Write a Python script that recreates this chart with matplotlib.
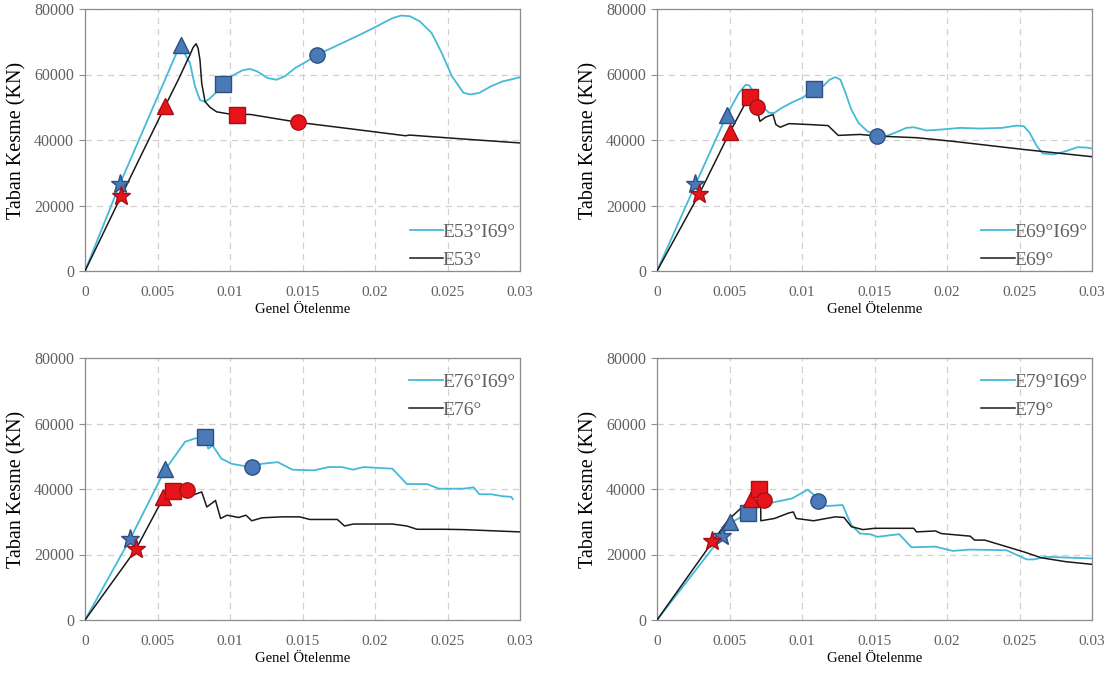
import numpy as np
import matplotlib.pyplot as plt

plt.rcParams['font.family'] = ['Liberation Serif', 'DejaVu Serif']

# ---- data (drift, base shear kN) ----
# panel 1
e53i69_x = [0, 0.0024, 0.00655, 0.00724, 0.00759, 0.00793, 0.00828, 0.00862, 0.00908, 0.0095, 0.0101,
            0.01087, 0.01136, 0.01185, 0.0126, 0.0132, 0.0138, 0.0145, 0.0153, 0.0160, 0.0175, 0.0187,
            0.0199, 0.0212, 0.0218, 0.0224, 0.0231, 0.0239, 0.0246, 0.0253, 0.0261, 0.0266, 0.0272,
            0.0280, 0.0288, 0.0295, 0.0300]
e53i69_y = [0, 26500, 69000, 63500, 56300, 52200, 51700, 52700, 54700, 57000, 59500,
            61300, 61700, 61000, 58900, 58400, 59500, 62000, 64000, 66000, 69100, 71600,
            74200, 77200, 78000, 77800, 76200, 72700, 66600, 59500, 54400, 53900, 54400,
            56400, 57900, 58600, 59200]
e53_x = [0, 0.0025, 0.0055, 0.0065, 0.0070, 0.00724, 0.00745, 0.00766, 0.0078, 0.00793, 0.00805,
         0.00828, 0.00862, 0.00908, 0.0100, 0.0114, 0.0147, 0.0187, 0.0221, 0.0224, 0.0261, 0.0300]
e53_y = [0, 22900, 50100, 59000, 63800, 66000, 68200, 69400, 68000, 64400, 57300,
         51700, 50000, 48600, 47900, 47800, 45400, 43200, 41300, 41500, 40300, 39100]
p1_blue = {'*': (0.0024, 26500), '^': (0.0066, 69000), 's': (0.0095, 57000), 'o': (0.0160, 66000)}
p1_red = {'*': (0.0025, 23000), '^': (0.0055, 50500), 's': (0.0105, 47500), 'o': (0.0147, 45500)}

# panel 2
e69i69_x = [0, 0.00265, 0.0048, 0.00565, 0.0060, 0.00614, 0.00638, 0.00675, 0.00724, 0.00773, 0.0081,
            0.0086, 0.00933, 0.01007, 0.0108, 0.0115, 0.0119, 0.0123, 0.01265, 0.0130, 0.0134, 0.0139,
            0.0145, 0.0152, 0.0158, 0.0164, 0.0172, 0.0177, 0.0186, 0.0196, 0.0209, 0.0223, 0.0238,
            0.0248, 0.0253, 0.0257, 0.0262, 0.0266, 0.0273, 0.0280, 0.0290, 0.0296, 0.0300]
e69i69_y = [0, 26400, 47500, 54400, 56300, 56900, 56600, 53900, 50300, 48300, 48300,
            49800, 51500, 53000, 55400, 56600, 58400, 59200, 58400, 54400, 49300, 45200,
            42700, 41400, 41200, 42200, 43700, 43900, 42900, 43200, 43700, 43500, 43700,
            44400, 44200, 42200, 38100, 35900, 35600, 36300, 37800, 37700, 37400]
e69_x = [0, 0.0029, 0.0050, 0.0061, 0.0064, 0.0069, 0.0070, 0.0071, 0.0075, 0.0080, 0.0082, 0.0085,
         0.0091, 0.0106, 0.0118, 0.0125, 0.0140, 0.0152, 0.0179, 0.0204, 0.0253, 0.0300]
e69_y = [0, 23400, 42200, 51300, 53200, 50100, 47500, 45700, 47000, 47800, 44700, 43900,
         45000, 44700, 44400, 41400, 41700, 41200, 40700, 39600, 37100, 34900]
p2_blue = {'*': (0.00265, 26500), '^': (0.0048, 47500), 's': (0.0108, 55500), 'o': (0.0152, 41300)}
p2_red = {'*': (0.0029, 23500), '^': (0.0050, 42500), 's': (0.0064, 53000), 'o': (0.0069, 50000)}

# panel 3
e76i69_x = [0, 0.0031, 0.0055, 0.0069, 0.00755, 0.0083, 0.0085, 0.0088, 0.0094, 0.0101, 0.0114, 0.0122,
            0.0133, 0.0143, 0.0158, 0.0168, 0.0177, 0.0185, 0.0192, 0.0212, 0.0222, 0.0236, 0.0244,
            0.0261, 0.0268, 0.0272, 0.0280, 0.0288, 0.0294, 0.0295]
e76i69_y = [0, 24600, 45700, 54400, 55400, 55900, 52300, 53300, 49300, 47700, 46700, 47700,
            48200, 45900, 45700, 46700, 46700, 45900, 46700, 46200, 41500, 41500, 40100,
            40100, 40500, 38400, 38400, 37800, 37600, 36900]
e76_x = [0, 0.0035, 0.0054, 0.0061, 0.0070, 0.0074, 0.00805, 0.0084, 0.0090, 0.00935, 0.0098, 0.0106,
         0.0111, 0.0115, 0.0122, 0.0136, 0.0148, 0.0155, 0.0174, 0.0179, 0.0185, 0.0212, 0.0222,
         0.0229, 0.0248, 0.0261, 0.0300]
e76_y = [0, 21500, 37300, 39300, 39600, 38100, 39100, 34500, 36500, 31000, 32000, 31300,
         32000, 30300, 31200, 31500, 31500, 30700, 30700, 28700, 29300, 29300, 28700,
         27700, 27700, 27600, 26900]
p3_blue = {'*': (0.0031, 24600), '^': (0.0055, 46000), 's': (0.0083, 56000), 'o': (0.0115, 46800)}
p3_red = {'*': (0.0035, 21800), '^': (0.0054, 37500), 's': (0.0061, 39300), 'o': (0.0070, 39600)}

# panel 4
e79i69_x = [0, 0.0045, 0.0051, 0.0063, 0.0072, 0.0081, 0.0093, 0.0104, 0.0117, 0.0128, 0.0134, 0.0140,
            0.0147, 0.0152, 0.0167, 0.01755, 0.0192, 0.0204, 0.0216, 0.0241, 0.0255, 0.0260, 0.0268, 0.0300]
e79i69_y = [0, 25700, 29700, 32700, 35000, 36000, 37100, 39800, 34800, 35100, 29000, 26400,
            26200, 25400, 26200, 22200, 22400, 21100, 21500, 21300, 18500, 18500, 19300, 18800]
e79_x = [0, 0.0038, 0.0049, 0.0059, 0.0065, 0.0070, 0.00715, 0.00716, 0.0081, 0.0091, 0.0094, 0.0096,
         0.0108, 0.0123, 0.0129, 0.0134, 0.0142, 0.0150, 0.0177, 0.0179, 0.0192, 0.0196, 0.0216,
         0.0219, 0.0226, 0.0241, 0.0253, 0.0265, 0.0282, 0.0300]
e79_y = [0, 23700, 30500, 34600, 36600, 38500, 36000, 30300, 31000, 32700, 33000, 31000,
         30300, 31500, 31300, 28500, 27600, 28000, 28000, 26900, 27200, 26400, 25600,
         24400, 24400, 22400, 20800, 19000, 17800, 17000]
p4_blue = {'*': (0.0045, 25700), '^': (0.0050, 30000), 's': (0.0063, 32800), 'o': (0.0111, 36200)}
p4_red = {'*': (0.0038, 24000), '^': (0.0065, 37000), 's': (0.0070, 40000), 'o': (0.0074, 36500)}

panels = [
    (e53i69_x, e53i69_y, e53_x, e53_y, p1_blue, p1_red, 'E53°I69°', 'E53°', 0.095),
    (e69i69_x, e69i69_y, e69_x, e69_y, p2_blue, p2_red, 'E69°I69°', 'E69°', 0.095),
    (e76i69_x, e76i69_y, e76_x, e76_y, p3_blue, p3_red, 'E76°I69°', 'E76°', 0.855),
    (e79i69_x, e79i69_y, e79_x, e79_y, p4_blue, p4_red, 'E79°I69°', 'E79°', 0.855),
]

cyan = '#45bad8'
blue = '#4a7ab8'
blue_edge = '#2f4f80'
red = '#e8141b'
red_edge = '#a80f14'
gray = '#606060'

fig = plt.figure(figsize=(11.2, 6.74), dpi=100)
W, H = 1120, 674
boxes = [(85, 9), (657, 9), (85, 358), (657, 358)]

for (bx, by), p in zip(boxes, panels):
    cx, cy, kx, ky, pb, pr, lab1, lab2, leg_y = p
    ax = fig.add_axes([bx / W, 1 - (by + 262) / H, 435 / W, 262 / H])
    ax.plot(cx, cy, color=cyan, lw=1.3, label=lab1, zorder=3)
    ax.plot(kx, ky, color='#1a1a1a', lw=1.1, label=lab2, zorder=3)
    for m, (x, y) in pb.items():
        ax.plot(x, y, marker=m, ms=14 if m == '*' else 11, color=blue, mec=blue_edge, mew=1, zorder=5)
    for m, (x, y) in pr.items():
        ax.plot(x, y, marker=m, ms=14 if m == '*' else 11, color=red, mec=red_edge, mew=1, zorder=5)
    ax.set_xlim(0, 0.03)
    ax.set_ylim(0, 80000)
    ax.set_xticks([0, 0.005, 0.01, 0.015, 0.02, 0.025, 0.03])
    ax.set_xticklabels(['0', '0.005', '0.01', '0.015', '0.02', '0.025', '0.03'])
    ax.set_yticks([0, 20000, 40000, 60000, 80000])
    ax.grid(True, ls=(0, (5, 4)), color='#d0d0d0', lw=0.9)
    ax.set_axisbelow(True)
    for s in ax.spines.values():
        s.set_color('#8c8c8c')
        s.set_linewidth(0.9)
    ax.tick_params(axis='y', length=4, color='#8c8c8c', labelsize=11.5, labelcolor=gray, pad=4)
    ax.tick_params(axis='x', length=0, labelsize=11, labelcolor=gray, pad=11)
    ax.set_xlabel('Genel Ötelenme', fontsize=10.5, labelpad=3)
    ax.set_ylabel('Taban Kesme (KN)', fontsize=14.5, labelpad=5)
    leg = ax.legend(loc='center right', bbox_to_anchor=(0.99, leg_y), frameon=False, fontsize=14,
                    handlelength=1.7, handletextpad=0.0, labelspacing=0.55, borderaxespad=0,
                    borderpad=0)
    for t in leg.get_texts():
        t.set_color(gray)

plt.savefig('out.png', dpi=100)
